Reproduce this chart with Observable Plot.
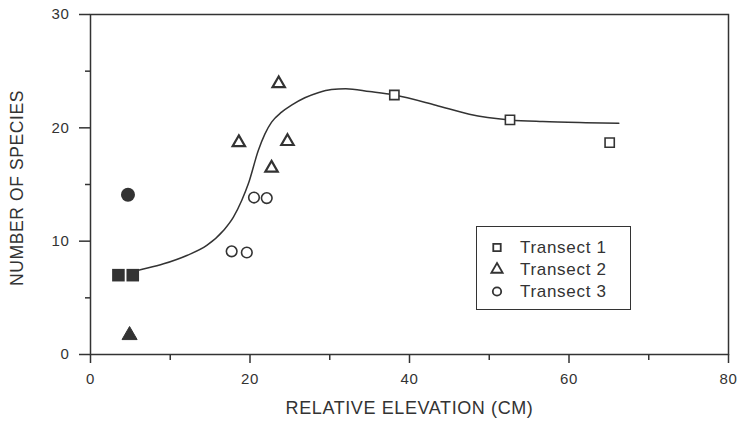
<!DOCTYPE html>
<html>
<head>
<meta charset="utf-8">
<script src="https://cdn.jsdelivr.net/npm/d3@7"></script>
<script src="https://cdn.jsdelivr.net/npm/@observablehq/plot@0.6"></script>
<style>
  html, body { margin: 0; padding: 0; background: #fff; }
  #wrap { position: relative; width: 740px; height: 427px; }
  #legend { position: absolute; left: 476px; top: 226px; }
  #legend svg { border: 1.5px solid #333; display: block; }
</style>
</head>
<body>
<div id="wrap"><div id="chart"></div><div id="legend"></div></div>
<script>
// ---- Data ----
const xTitle = "RELATIVE ELEVATION (CM)";
const yTitle = "NUMBER OF SPECIES";
const legendLabels = ["Transect 1", "Transect 2", "Transect 3"];
const legendSymbols = ["square", "triangle", "circle"];

const xMajorTicks = [0, 20, 40, 60, 80];
const xMinorTicks = [10, 30, 50, 70];
const yMajorTicks = [0, 10, 20, 30];
const yMinorTicks = [5, 15, 25];

// Transect 1 (squares)
const t1Elev = [38.1, 52.6, 65.1];
const t1Species = [22.9, 20.7, 18.7];
const t1FilledElev = [3.5, 5.3];
const t1FilledSpecies = [7.0, 7.0];
// Transect 2 (triangles)
const t2Elev = [18.6, 22.7, 23.6, 24.7];
const t2Species = [18.7, 16.45, 23.9, 18.8];
const t2FilledElev = [4.9];
const t2FilledSpecies = [1.7];
// Transect 3 (circles)
const t3Elev = [17.7, 19.6, 20.5, 22.1];
const t3Species = [9.1, 9.0, 13.85, 13.8];
const t3FilledElev = [4.7];
const t3FilledSpecies = [14.1];

// Fitted curve
const curveElev = [5.3, 6.25, 9.16, 12.08, 14.58, 16.67, 17.92, 18.96, 19.79, 21.04, 21.875, 22.71, 23.96, 25.21, 26.875, 28.54, 30.21, 32, 35, 38.1, 43.3, 47.5, 52.6, 56.7, 62.1, 66.25];
const curveSpecies = [7.3, 7.47, 8.0, 8.74, 9.62, 10.94, 12.12, 13.59, 15.06, 18.0, 19.47, 20.5, 21.38, 22.0, 22.65, 23.1, 23.38, 23.45, 23.2, 22.9, 22.0, 21.2, 20.7, 20.55, 20.45, 20.4];

// ---- Build tables ----
const pts = (xs, ys) => xs.map((x, i) => ({x, y: ys[i]}));
const ink = "#333";

const chart = Plot.plot({
  width: 740,
  height: 427,
  marginLeft: 90,
  marginRight: 12,
  marginTop: 14,
  marginBottom: 73,
  x: {domain: [0, 80]},
  y: {domain: [0, 30]},
  style: {fontFamily: "'Liberation Sans', Arial, sans-serif", fontSize: "15px", color: ink, background: "#fff", letterSpacing: "0.6px"},
  marks: [
    Plot.frame({stroke: ink, strokeWidth: 1.5}),
    Plot.axisX({ticks: xMajorTicks, tickSize: 9, tickPadding: 10, strokeWidth: 1.5, label: null}),
    Plot.axisX({ticks: xMinorTicks, tickSize: 6, strokeWidth: 1.5, tickFormat: () => "", label: null}),
    Plot.axisY({ticks: yMajorTicks, tickSize: 11, tickPadding: 10, strokeWidth: 1.5, label: null}),
    Plot.axisY({ticks: yMinorTicks, tickSize: 5, strokeWidth: 1.5, tickFormat: () => "", label: null}),
    Plot.line(pts(curveElev, curveSpecies), {x: "x", y: "y", curve: "monotone-x", stroke: ink, strokeWidth: 1.5}),
    // open symbols
    Plot.dot(pts(t1Elev, t1Species), {x: "x", y: "y", symbol: "square", r: 5.2, stroke: ink, strokeWidth: 1.6, fill: "#fff"}),
    Plot.dot(pts(t2Elev, t2Species), {x: "x", y: "y", symbol: "triangle", r: 4.6, stroke: ink, strokeWidth: 2.2, fill: "#fff"}),
    Plot.dot(pts(t3Elev, t3Species), {x: "x", y: "y", symbol: "circle", r: 5.3, stroke: ink, strokeWidth: 1.6, fill: "#fff"}),
    // filled symbols
    Plot.dot(pts(t1FilledElev, t1FilledSpecies), {x: "x", y: "y", symbol: "square", r: 7.1, fill: ink}),
    Plot.dot(pts(t2FilledElev, t2FilledSpecies), {x: "x", y: "y", symbol: "triangle", r: 5.6, fill: ink, stroke: ink, strokeWidth: 1}),
    Plot.dot(pts(t3FilledElev, t3FilledSpecies), {x: "x", y: "y", symbol: "circle", r: 7, fill: ink}),
    // titles
    Plot.text([xTitle], {text: d => d, frameAnchor: "bottom", dy: 59, fontSize: 18, fill: ink}),
    Plot.text([yTitle], {text: d => d, frameAnchor: "left", textAnchor: "middle", dx: -73.5, dy: 3.5, rotate: -90, fontSize: 17.5, fill: ink})
  ]
});
document.getElementById("chart").appendChild(chart);

const legend = Plot.plot({
  width: 153,
  height: 82,
  marginLeft: 0,
  marginRight: 0,
  marginTop: 19.5,
  marginBottom: 18.5,
  y: {type: "point", domain: legendLabels, padding: 0, axis: null},
  symbol: {domain: legendLabels, range: legendSymbols},
  style: {fontFamily: "'Liberation Sans', Arial, sans-serif", fontSize: "17px", color: ink, background: "#fff", letterSpacing: "0.7px", overflow: "visible"},
  marks: [
    Plot.dot(legendLabels, {y: d => d, symbol: d => d, frameAnchor: "left", dx: 19.5, r: 4.2, stroke: ink, strokeWidth: 1.8, fill: "none"}),
    Plot.text(legendLabels, {y: d => d, text: d => d, frameAnchor: "left", dx: 42.5, textAnchor: "start", fill: ink})
  ]
});
document.getElementById("legend").appendChild(legend);
</script>
</body>
</html>
